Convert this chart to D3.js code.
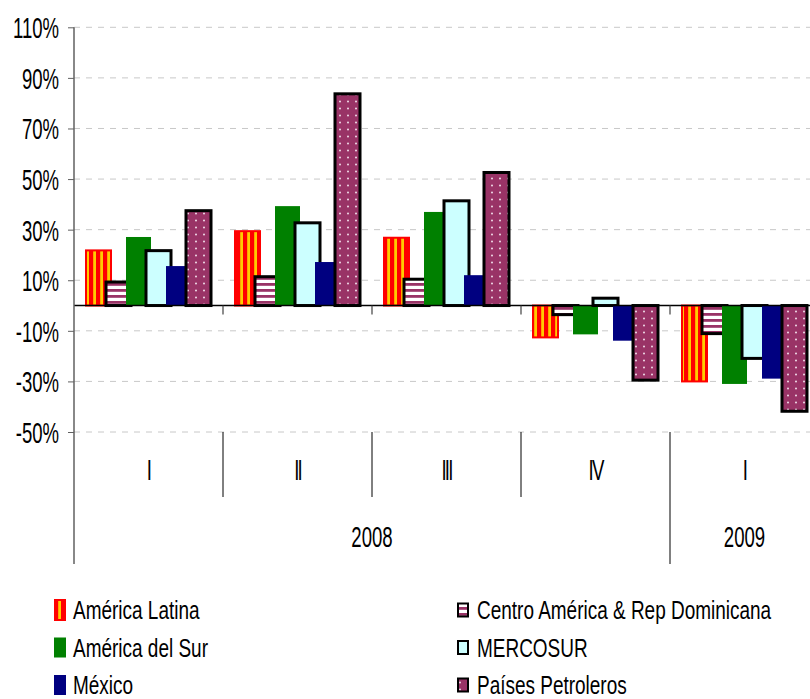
<!DOCTYPE html>
<html>
<head>
<meta charset="utf-8">
<script src="https://cdn.jsdelivr.net/npm/d3@7"></script>
<style>
  body { margin: 0; background: #fff; }
  svg { display: block; font-family: "Liberation Sans", Arial, sans-serif; }
</style>
</head>
<body>
<svg id="chart" width="810" height="699"></svg>
<script>
// datos
var categories = ["2008-I", "2008-II", "2008-III", "2008-IV", "2009-I"];
var quarterLabels = ["I", "II", "III", "IV", "I"];
var years = ["2008", "2009"];
var yearSpans = [4, 1];
var series = ["América Latina", "Centro América & Rep Dominicana", "América del Sur", "MERCOSUR", "México", "Países Petroleros"];
var americaLatina = [21.8, 29.4, 26.8, -12.6, -30.0];
var centroAmerica = [9.3, 11.4, 10.4, -3.6, -11.1];
var americaDelSur = [27.1, 39.3, 37.0, -11.4, -31.0];
var mercosur = [21.7, 32.7, 41.4, 2.9, -20.9];
var mexico = [15.6, 17.2, 12.0, -13.9, -28.9];
var paisesPetroleros = [37.5, 83.7, 52.6, -29.5, -41.8];
var yTicks = [-50, -30, -10, 10, 30, 50, 70, 90, 110];

var seriesValues = [americaLatina, centroAmerica, americaDelSur, mercosur, mexico, paisesPetroleros];

var svg = d3.select('svg#chart');
var defs = svg.append('defs');

// patterns
var pLat = defs.append('pattern').attr('id', 'p-lat')
  .attr('patternUnits', 'userSpaceOnUse').attr('width', 7).attr('height', 7);
pLat.append('rect').attr('width', 7).attr('height', 7).attr('fill', '#ff0000');
pLat.append('rect').attr('x', 2.2).attr('width', 2.8).attr('height', 7).attr('fill', '#ffcc00');

var pCen = defs.append('pattern').attr('id', 'p-cen')
  .attr('patternUnits', 'userSpaceOnUse').attr('width', 6).attr('height', 6);
pCen.append('rect').attr('width', 6).attr('height', 6).attr('fill', '#ffffff');
pCen.append('rect').attr('y', 1).attr('width', 6).attr('height', 2.8).attr('fill', '#993366');

var pPet = defs.append('pattern').attr('id', 'p-pet')
  .attr('patternUnits', 'userSpaceOnUse').attr('width', 8).attr('height', 7);
pPet.append('rect').attr('width', 8).attr('height', 7).attr('fill', '#993366');
pPet.append('circle').attr('cx', 4).attr('cy', 3.5).attr('r', 1).attr('fill', '#f0dce8');

var fills = ['url(#p-lat)', 'url(#p-cen)', '#008000', '#ccffff', '#000080', 'url(#p-pet)'];
var strokes = ['#ff0000', '#000000', 'none', '#000000', 'none', '#000000'];
var strokeW = [2, 3, 0, 3, 0, 3];

// scales
var x0 = d3.scaleBand().domain(categories).range([74, 819]);
var x1 = d3.scaleBand().domain(series).range([12, 132]);
var barW = x1.step() * 1.25;
var y = d3.scaleLinear().domain([-50, 110]).range([432, 27.3]);

// gridlines
svg.append('g').selectAll('line').data(yTicks).join('line')
  .attr('x1', 74).attr('x2', 810)
  .attr('y1', function(d){ return y(d); }).attr('y2', function(d){ return y(d); })
  .attr('stroke', '#c8c8c8').attr('stroke-width', 1).attr('stroke-dasharray', '6,6');

// y axis
var sx = 0.64;
var yAxis = svg.append('g').attr('transform', 'translate(74,0)')
  .call(d3.axisLeft(y).tickValues(yTicks).tickSize(6).tickFormat(function(d){ return d + '%'; }));
yAxis.select('.domain').remove();
yAxis.selectAll('.tick line').attr('stroke', '#606060');
yAxis.selectAll('.tick text')
  .attr('font-size', 29).attr('fill', '#000')
  .attr('font-family', '"Liberation Sans", Arial, sans-serif')
  .attr('x', -15 / sx).attr('dy', '0.36em')
  .attr('transform', 'scale(' + sx + ',1)');

// bars
series.forEach(function(s, i){
  svg.append('g').selectAll('rect').data(seriesValues[i]).join('rect')
    .attr('x', function(d, j){ return x0(categories[j]) + x1(s); })
    .attr('width', barW)
    .attr('y', function(d){ return y(Math.max(0, d)); })
    .attr('height', function(d){ return Math.abs(y(d) - y(0)); })
    .attr('fill', fills[i])
    .attr('stroke', strokes[i])
    .attr('stroke-width', strokeW[i]);
});

// zero line
svg.append('line').attr('x1', 74).attr('x2', 810).attr('y1', y(0)).attr('y2', y(0))
  .attr('stroke', '#000').attr('stroke-width', 1.5);
svg.append('g').selectAll('line').data(categories.slice(1)).join('line')
  .attr('x1', function(d){ return x0(d); }).attr('x2', function(d){ return x0(d); })
  .attr('y1', y(0)).attr('y2', y(0) + 9)
  .attr('stroke', '#404040').attr('stroke-width', 1.2);

// category area lines
svg.append('g').selectAll('line').data(categories.slice(1, 4)).join('line')
  .attr('x1', function(d){ return x0(d); }).attr('x2', function(d){ return x0(d); })
  .attr('y1', y(-50)).attr('y2', 497)
  .attr('stroke', '#000').attr('stroke-width', 1);
svg.append('line').attr('x1', x0(categories[4])).attr('x2', x0(categories[4]))
  .attr('y1', y(-50)).attr('y2', 564).attr('stroke', '#808080').attr('stroke-width', 2);
svg.append('line').attr('x1', 74).attr('x2', 74).attr('y1', y(110)).attr('y2', 564)
  .attr('stroke', '#606060').attr('stroke-width', 1.5);

// quarter labels
var lab = 0.62;
svg.append('g').selectAll('text').data(categories).join('text')
  .attr('transform', function(d){ return 'translate(' + (x0(d) + x0.bandwidth() / 2) + ',480) scale(' + lab + ',1)'; })
  .attr('text-anchor', 'middle').attr('font-size', 30)
  .attr('letter-spacing', -3)
  .text(function(d, j){ return quarterLabels[j]; });

// year labels
var start = 0;
years.forEach(function(yr, k){
  var a = x0(categories[start]);
  var b = x0(categories[start + yearSpans[k] - 1]) + x0.bandwidth();
  svg.append('text')
    .attr('transform', 'translate(' + ((a + b) / 2) + ',547) scale(' + lab + ',1)')
    .attr('text-anchor', 'middle').attr('font-size', 30)
    .text(yr);
  start += yearSpans[k];
});

// legend
var lsx = 0.73;
series.forEach(function(s, i){
  var col = i % 2, row = Math.floor(i / 2);
  var bx = col === 0 ? 54 : 457;
  var base = 619 + row * 37.5;
  var tall = col === 0 ? 20 : 13;
  var g = svg.append('g');
  g.append('rect')
    .attr('x', bx + (strokeW[i] ? 1 : 0)).attr('width', strokeW[i] ? 10 : 12)
    .attr('y', base - 9 - tall / 2).attr('height', tall)
    .attr('fill', fills[i]).attr('stroke', strokes[i]).attr('stroke-width', strokeW[i] ? 2 : 0);
  g.append('text')
    .attr('transform', 'translate(' + (col === 0 ? 73 : 477) + ',' + base + ') scale(' + lsx + ',1)')
    .attr('font-size', 26)
    .text(s);
});
</script>
</body>
</html>
